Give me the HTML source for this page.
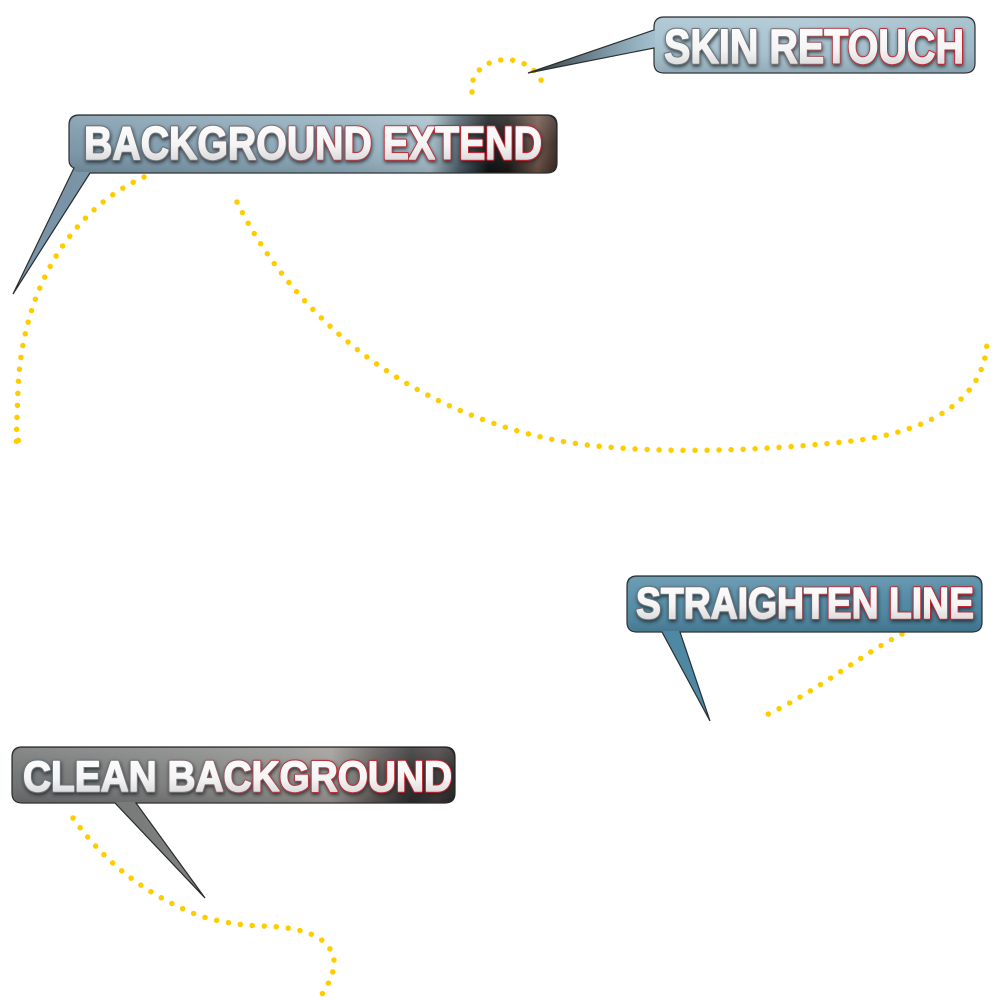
<!DOCTYPE html>
<html>
<head>
<meta charset="utf-8">
<style>
  html, body { margin:0; padding:0; background:#ffffff; }
  body { width:1000px; height:1000px; overflow:hidden; }
  svg { display:block; }
  .lbl { font-family:"Liberation Sans", "DejaVu Sans", sans-serif; font-weight:bold; }
  .dots { fill:none; stroke:#ffcc00; stroke-width:5.5; stroke-linecap:round; stroke-dasharray:0 12; }
  .under { stroke-width:3.6; stroke-linejoin:round; }
  .over { stroke-width:1.4; stroke-linejoin:round; }
</style>
</head>
<body>
<svg width="1000" height="1000" viewBox="0 0 1000 1000" xmlns="http://www.w3.org/2000/svg">
  <defs>
    <linearGradient id="gSkin" gradientUnits="userSpaceOnUse" x1="528" y1="0" x2="975" y2="0">
      <stop offset="0" stop-color="#30363b"/>
      <stop offset="0.18" stop-color="#7e98a6"/>
      <stop offset="0.28" stop-color="#a3bfcd"/>
      <stop offset="0.6" stop-color="#a6c2d0"/>
      <stop offset="1" stop-color="#99b7c5"/>
    </linearGradient>
    <linearGradient id="gBg" gradientUnits="userSpaceOnUse" x1="69" y1="0" x2="557" y2="0">
      <stop offset="0" stop-color="#7894a6"/>
      <stop offset="0.55" stop-color="#8eabbb"/>
      <stop offset="0.74" stop-color="#a5bdc9"/>
      <stop offset="0.8" stop-color="#4a5c66"/>
      <stop offset="0.86" stop-color="#0e1113"/>
      <stop offset="0.9" stop-color="#1a1716"/>
      <stop offset="0.96" stop-color="#6e5246"/>
      <stop offset="1" stop-color="#33251f"/>
    </linearGradient>
    <linearGradient id="gStr" gradientUnits="userSpaceOnUse" x1="627" y1="0" x2="982" y2="0">
      <stop offset="0" stop-color="#4f88a3"/>
      <stop offset="0.5" stop-color="#4d87a3"/>
      <stop offset="1" stop-color="#45809d"/>
    </linearGradient>
    <linearGradient id="gClean" gradientUnits="userSpaceOnUse" x1="12" y1="0" x2="455" y2="0">
      <stop offset="0" stop-color="#6c706f"/>
      <stop offset="0.4" stop-color="#7f817f"/>
      <stop offset="0.62" stop-color="#8f8d8a"/>
      <stop offset="0.72" stop-color="#9a9693"/>
      <stop offset="0.82" stop-color="#5a5552"/>
      <stop offset="0.9" stop-color="#2c2b2b"/>
      <stop offset="0.96" stop-color="#3d3736"/>
      <stop offset="1" stop-color="#242424"/>
    </linearGradient>
    <linearGradient id="gShine" x1="0" y1="0" x2="0" y2="1">
      <stop offset="0" stop-color="#ffffff" stop-opacity="0.18"/>
      <stop offset="0.5" stop-color="#ffffff" stop-opacity="0.05"/>
      <stop offset="1" stop-color="#000000" stop-opacity="0.12"/>
    </linearGradient>
    <linearGradient id="gTxt" x1="0" y1="0" x2="0" y2="1">
      <stop offset="0" stop-color="#ffffff"/>
      <stop offset="0.55" stop-color="#f4f4f4"/>
      <stop offset="1" stop-color="#cdcdcd"/>
    </linearGradient>
    <linearGradient id="gStroke" x1="0" y1="0" x2="1" y2="0">
      <stop offset="0" stop-color="#66757c"/>
      <stop offset="0.4" stop-color="#7d6f76"/>
      <stop offset="0.6" stop-color="#b43a44"/>
      <stop offset="1" stop-color="#cc1f2c"/>
    </linearGradient>
    <filter id="sh" x="-5%" y="-30%" width="110%" height="160%">
      <feGaussianBlur in="SourceAlpha" stdDeviation="1.8"/>
      <feOffset dx="0.5" dy="1.8" result="b"/>
      <feFlood flood-color="#1e2326" flood-opacity="0.8"/>
      <feComposite in2="b" operator="in"/>
      <feMerge><feMergeNode/><feMergeNode in="SourceGraphic"/></feMerge>
    </filter>
  </defs>

  <!-- dotted connectors -->
  <path class="dots" d="M472,92 C468,55 530,45 544,87"/>
  <path class="dots" d="M144,177 C70,210 22,290 18,390 S19,425 20,436"/>
  <path class="dots" d="M237,202 C290,310 400,410 560,441 C640,455 760,452 860,440 C930,430 985,400 987,341"/>
  <path class="dots" d="M902,634 C860,655 820,690 764,716"/>
  <path class="dots" d="M73,818 Q120,885 200,916 Q230,925 262,926 C300,927 330,935 334,960 C335,975 325,990 318,1000"/>

  <!-- SKIN RETOUCH -->
  <path d="M664,17 H965 Q975,17 975,27 V63 Q975,73 965,73 H664 Q654,73 654,63 V48 L528,73 L654,30 V27 Q654,17 664,17 Z"
        fill="url(#gSkin)" stroke="#2c2f31" stroke-width="1.2"/>
  <rect x="655" y="18" width="319" height="54" rx="9" fill="url(#gShine)"/>
  <text class="lbl under" x="664" y="63" font-size="48" textLength="300" lengthAdjust="spacingAndGlyphs"
        fill="url(#gStroke)" stroke="url(#gStroke)" filter="url(#sh)">SKIN RETOUCH</text>
  <text class="lbl over" x="664" y="63" font-size="48" textLength="300" lengthAdjust="spacingAndGlyphs"
        fill="url(#gTxt)" stroke="url(#gTxt)">SKIN RETOUCH</text>

  <!-- BACKGROUND EXTEND -->
  <path d="M79,115 H547 Q557,115 557,125 V163 Q557,173 547,173 H90 L13,294 L74,168 Q69,166 69,160 V125 Q69,115 79,115 Z"
        fill="url(#gBg)" stroke="#2a2d2f" stroke-width="1.2"/>
  <rect x="70" y="116" width="486" height="56" rx="9" fill="url(#gShine)"/>
  <text class="lbl under" x="84" y="159" font-size="46.5" textLength="458" lengthAdjust="spacingAndGlyphs"
        fill="url(#gStroke)" stroke="url(#gStroke)" filter="url(#sh)">BACKGROUND EXTEND</text>
  <text class="lbl over" x="84" y="159" font-size="46.5" textLength="458" lengthAdjust="spacingAndGlyphs"
        fill="url(#gTxt)" stroke="url(#gTxt)">BACKGROUND EXTEND</text>

  <!-- STRAIGHTEN LINE -->
  <path d="M637,576 H972 Q982,576 982,586 V622 Q982,632 972,632 H680 L710,721 L662,632 H637 Q627,632 627,622 V586 Q627,576 637,576 Z"
        fill="url(#gStr)" stroke="#2a3033" stroke-width="1.2"/>
  <rect x="628" y="577" width="353" height="54" rx="9" fill="url(#gShine)"/>
  <text class="lbl under" x="636" y="618" font-size="44" textLength="338" lengthAdjust="spacingAndGlyphs"
        fill="url(#gStroke)" stroke="url(#gStroke)" filter="url(#sh)">STRAIGHTEN LINE</text>
  <text class="lbl over" x="636" y="618" font-size="44" textLength="338" lengthAdjust="spacingAndGlyphs"
        fill="url(#gTxt)" stroke="url(#gTxt)">STRAIGHTEN LINE</text>

  <!-- CLEAN BACKGROUND -->
  <path d="M22,747 H445 Q455,747 455,757 V793 Q455,803 445,803 H136 L205,898 L115,803 H22 Q12,803 12,793 V757 Q12,747 22,747 Z"
        fill="url(#gClean)" stroke="#2a2a2a" stroke-width="1.2"/>
  <rect x="13" y="748" width="441" height="54" rx="9" fill="url(#gShine)"/>
  <text class="lbl under" x="23" y="791" font-size="43" textLength="429" lengthAdjust="spacingAndGlyphs"
        fill="url(#gStroke)" stroke="url(#gStroke)" filter="url(#sh)">CLEAN BACKGROUND</text>
  <text class="lbl over" x="23" y="791" font-size="43" textLength="429" lengthAdjust="spacingAndGlyphs"
        fill="url(#gTxt)" stroke="url(#gTxt)">CLEAN BACKGROUND</text>
</svg>
</body>
</html>
